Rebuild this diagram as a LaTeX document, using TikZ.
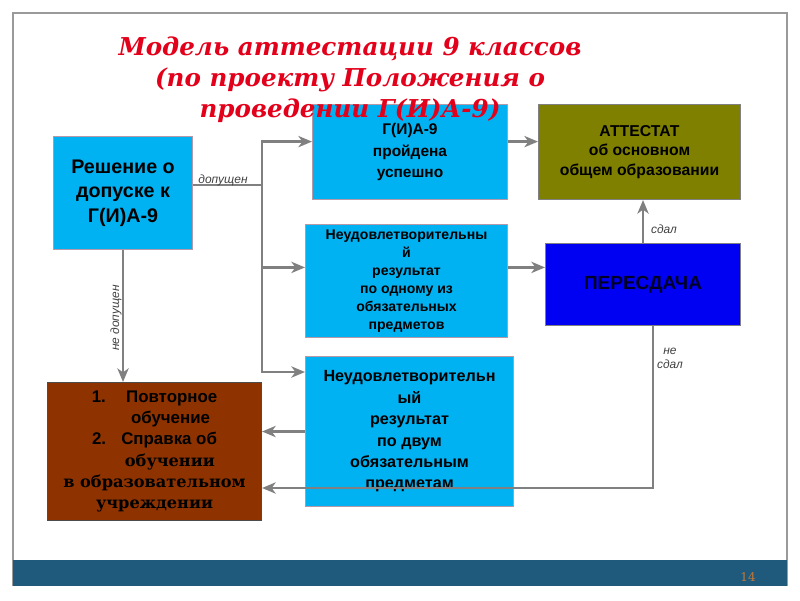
\documentclass[tikz,border=0pt]{standalone}
\usepackage{fontspec}
\usetikzlibrary{arrows.meta}
\newfontfamily\boxfont{Liberation Sans}
\newfontfamily\titlefont{DejaVu Serif}
\definecolor{slidecyan}{HTML}{00B2F2}
\definecolor{slideedge}{HTML}{B49AA8}
\definecolor{slideolive}{HTML}{808000}
\definecolor{slideblue}{HTML}{0000F2}
\definecolor{slidebrown}{HTML}{8E3300}
\definecolor{bandblue}{HTML}{1F5A7C}
\definecolor{linkgray}{HTML}{808080}
\definecolor{taggray}{HTML}{404040}
\definecolor{titlered}{HTML}{E3001B}
\definecolor{pagebrown}{HTML}{C0783A}
\tikzset{
  stage/.style={draw=slideedge,line width=0.7pt,fill=slidecyan,anchor=north west,
    align=center,inner sep=0pt,text=black},
  link/.style={draw=linkgray,line width=1.8pt},
  arrow link/.style={link,-{Stealth[length=3.4mm,width=2.8mm,inset=1mm]}},
  tag/.style={font=\boxfont\itshape\fontsize{8.5}{10}\selectfont,text=taggray,inner sep=1pt}
}
\begin{document}
\begin{tikzpicture}[x=0.025cm,y=-0.025cm]
  \useasboundingbox (0,0) rectangle (800,600);
  \fill[white] (0,0) rectangle (800,600);
  \draw[linkgray!80,line width=1pt] (13,586) -- (13,13) -- (787,13) -- (787,586);
  \fill[bandblue] (13,560) rectangle (787,586);
  \node[font=\titlefont\fontsize{8.5}{9}\selectfont,text=pagebrown] (page) at (748,577) {14};

  \node[stage,minimum width=3.475cm,minimum height=2.825cm,
    font=\boxfont\bfseries\fontsize{14}{17.4}\selectfont] (decision) at (53,136)
    {Решение о\\допуске к\\Г(И)А-9};
  \node[stage,minimum width=4.875cm,minimum height=2.375cm,
    font=\boxfont\bfseries\fontsize{11}{15}\selectfont] (passed) at (312,104)
    {Г(И)А-9\\пройдена\\успешно};
  \node[stage,fill=slideolive,draw=linkgray,minimum width=5.05cm,minimum height=2.375cm,
    font=\boxfont\bfseries\fontsize{11.2}{14}\selectfont] (attestat) at (538,104)
    {АТТЕСТАТ\\об основном\\общем образовании};
  \node[stage,minimum width=5.05cm,minimum height=2.825cm,
    font=\boxfont\bfseries\fontsize{10}{12.8}\selectfont] (failone) at (305,224)
    {Неудовлетворительны\\й\\результат\\по одному из\\обязательных\\предметов};
  \node[stage,fill=slideblue,draw=linkgray,minimum width=4.875cm,minimum height=2.05cm,
    text=black!85!blue,font=\boxfont\bfseries\fontsize{13.5}{16}\selectfont] (retake) at (545,243)
    {ПЕРЕСДАЧА};
  \node[stage,minimum width=5.2cm,minimum height=3.75cm,
    font=\boxfont\bfseries\fontsize{11.5}{15.2}\selectfont] (failtwo) at (305,356)
    {Неудовлетворительн\\ый\\результат\\по двум\\обязательным\\предметам};
  \node[stage,fill=slidebrown,draw=black!70,minimum width=5.35cm,minimum height=3.45cm,
    font=\titlefont\bfseries\fontsize{11.5}{15.2}\selectfont] (repeat) at (47,382)
    {{\boxfont\fontsize{12}{15.2}\selectfont 1.\hspace{1.2em}Повторное}\\
     {\boxfont\fontsize{12}{15.2}\selectfont\hspace*{1.9em}обучение}\\
     {\boxfont\fontsize{12}{15.2}\selectfont 2.\hspace{0.9em}Справка об}\\\hspace*{1.9em}обучении\\
     в образовательном\\учреждении};

  \coordinate (fork) at (262,185);
  \coordinate (loop) at (653,488);
  \draw[link] (decision.east |- fork) -- (fork);
  \draw[arrow link] (fork) |- ([yshift=0.26cm]passed.west);
  \draw[arrow link] (fork) |- ([yshift=0.34cm]failone.west);
  \draw[arrow link] (fork) |- ([yshift=-0.4cm]failtwo.north west);
  \draw[arrow link] (decision.south) -- (decision.south |- repeat.north);
  \draw[arrow link] ([yshift=0.26cm]passed.east) -- ([yshift=0.26cm]passed.east -| attestat.west);
  \draw[arrow link] ([yshift=0.34cm]failone.east) -- ([yshift=0.34cm]failone.east -| retake.west);
  \draw[arrow link] (retake.north) -- (retake.north |- attestat.south);
  \draw[arrow link] (failtwo.west) -- (failtwo.west -| repeat.east);
  \draw[arrow link] (retake.south -| loop) -- (loop) -- (loop -| repeat.east);

  \node[tag] (admitted) at (223,180) {допущен};
  \node[tag,rotate=90] (notadmitted) at (116,318) {не допущен};
  \node[tag] (passedtag) at (664,229) {сдал};
  \node[tag,align=center] (failedtag) at (670,358) {не\\сдал};

  \node[font=\titlefont\bfseries\itshape\fontsize{17.5}{22}\selectfont,text=titlered,
    align=center] (title) at (350,80)
    {Модель аттестации 9 классов\\(по проекту Положения о\\проведении Г(И)А-9)};
\end{tikzpicture}
\end{document}
